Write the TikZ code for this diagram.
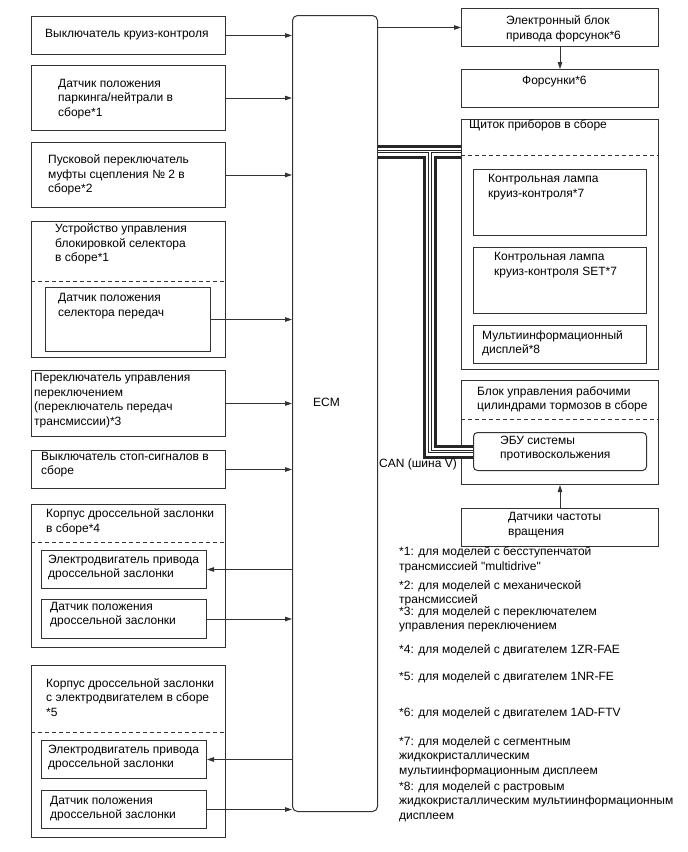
\documentclass[tikz,border=0pt]{standalone}
\usepackage{fontspec}
\setmainfont{Liberation Sans}[Ligatures=TeXOff]
\usetikzlibrary{positioning,arrows.meta}

\begin{document}
\begin{tikzpicture}[x=1pt, y=-1pt, font=\fontsize{12}{14.5}\selectfont,
  box/.style={draw=black!80, line width=1pt, anchor=north west, inner sep=0pt, minimum width=194pt},
  txt/.style={align=left, inner sep=0pt, anchor=base west},
  sep/.style={draw=black!80, line width=0.9pt, dash pattern=on 4pt off 3pt},
  arr/.style={draw=black!80, line width=0.9pt, -{Triangle[length=7pt,width=4.5pt]}}]
\useasboundingbox (0,0) rectangle (688,852);

% ECM
\node[box, minimum width=85pt, minimum height=796pt, rounded corners=5pt] (ecm) at (292,15) {};
\node[txt] (ecmt) at (313,406) {ECM};

% left column (text nodes sit on the baseline of their last line)
\node[box, minimum height=38pt] (cruise) at (31,16) {};
\node[txt] (cruiset) at ([shift={(14,21.5)}]cruise.north west) {Выключатель круиз-контроля};
\node[box, minimum height=65pt, below=10pt of cruise] (pnsw) {};
\node[txt] (pnswt) at ([shift={(27,51)}]pnsw.north west) {Датчик положения\\паркинга/нейтрали в\\сборе*1};
\node[box, minimum height=65pt, below=11pt of pnsw] (clutch) {};
\node[txt] (clutcht) at ([shift={(17,50.5)}]clutch.north west) {Пусковой переключатель\\муфты сцепления № 2 в\\сборе*2};
\node[box, minimum height=136pt, below=13pt of clutch] (lock) {};
\node[txt] (lockt) at ([shift={(24,40.5)}]lock.north west) {Устройство управления\\блокировкой селектора\\в сборе*1};
\draw[sep] ([yshift=-60pt]lock.north west) -- ([yshift=-60pt]lock.north east);
\node[box, minimum width=165pt, minimum height=64pt, below right=66pt and 14pt of lock.north west] (selsens) {};
\node[txt] (selsenst) at ([shift={(13,29)}]selsens.north west) {Датчик положения\\селектора передач};
\node[box, minimum height=66pt, below=12pt of lock] (shiftsw) {};
\node[txt] (shiftswt) at ([shift={(3,55)}]shiftsw.north west) {Переключатель управления\\переключением\\(переключатель передач\\трансмиссии)*3};
\node[box, minimum height=38pt, below=13pt of shiftsw] (stopsw) {};
\node[txt] (stopswt) at ([shift={(10,24.5)}]stopsw.north west) {Выключатель стоп-сигналов в\\сборе};

% throttle bodies
\node[box, minimum height=143pt, below=15pt of stopsw] (tb4) {};
\node[txt] (tb4t) at ([shift={(15,28)}]tb4.north west) {Корпус дроссельной заслонки\\в сборе*4};
\draw[sep] ([yshift=-38pt]tb4.north west) -- ([yshift=-38pt]tb4.north east);
\node[box, minimum width=165pt, minimum height=38pt, below right=46pt and 10pt of tb4.north west] (tbmot4) {};
\node[txt] (tbmot4t) at ([shift={(7,27.5)}]tbmot4.north west) {Электродвигатель привода\\дроссельной заслонки};
\node[box, minimum width=165pt, minimum height=39pt, below=10pt of tbmot4] (tbsens4) {};
\node[txt] (tbsens4t) at ([shift={(9,25.5)}]tbsens4.north west) {Датчик положения\\дроссельной заслонки};

\node[box, minimum height=172pt, below=17pt of tb4] (tb5) {};
\node[txt] (tb5t) at ([shift={(15,51)}]tb5.north west) {Корпус дроссельной заслонки\\с электродвигателем в сборе\\*5};
\draw[sep] ([yshift=-67pt]tb5.north west) -- ([yshift=-67pt]tb5.north east);
\node[box, minimum width=165pt, minimum height=38pt, below right=75pt and 10pt of tb5.north west] (tbmot5) {};
\node[txt] (tbmot5t) at ([shift={(7,27.5)}]tbmot5.north west) {Электродвигатель привода\\дроссельной заслонки};
\node[box, minimum width=165pt, minimum height=38pt, below=11pt of tbmot5] (tbsens5) {};
\node[txt] (tbsens5t) at ([shift={(9,28.5)}]tbsens5.north west) {Датчик положения\\дроссельной заслонки};

% right column
\node[box, minimum width=197pt, minimum height=38pt] (edu) at (461,8) {};
\node[txt] (edut) at ([shift={(45,31)}]edu.north west) {Электронный блок\\привода форсунок*6};
\node[box, minimum width=197pt, minimum height=38pt, below=22pt of edu] (inj) {};
\node[txt] (injt) at ([shift={(61,15)}]inj.north west) {Форсунки*6};
\node[box, minimum width=197pt, minimum height=250pt, below=11pt of inj] (meter) {};
\node[txt] (metert) at ([shift={(8,9.5)}]meter.north west) {Щиток приборов в сборе};
\draw[sep] ([yshift=-36pt]meter.north west) -- ([yshift=-36pt]meter.north east);
\node[box, minimum width=173pt, minimum height=66pt, below right=50pt and 12pt of meter.north west] (lampa) {};
\node[txt] (lampat) at ([shift={(15,28)}]lampa.north west) {Контрольная лампа\\круиз-контроля*7};
\node[box, minimum width=173pt, minimum height=66pt, below=11pt of lampa] (lampb) {};
\node[txt] (lampbt) at ([shift={(21,28)}]lampb.north west) {Контрольная лампа\\круиз-контроля SET*7};
\node[box, minimum width=173pt, minimum height=38pt, below=11pt of lampb] (mid) {};
\node[txt] (midt) at ([shift={(9,28.5)}]mid.north west) {Мультиинформационный\\дисплей*8};

\node[box, minimum width=197pt, minimum height=104pt, below=10pt of meter] (brake) {};
\node[txt] (braket) at ([shift={(16,29.5)}]brake.north west) {Блок управления рабочими\\цилиндрами тормозов в сборе};
\draw[sep] ([yshift=-39pt]brake.north west) -- ([yshift=-39pt]brake.north east);
\node[box, minimum width=173pt, minimum height=38pt, rounded corners=4pt, below right=52pt and 12pt of brake.north west] (ecu) {};
\node[txt] (ecut) at ([shift={(27,26.5)}]ecu.north west) {ЭБУ системы\\противоскольжения};
\node[box, minimum width=197pt, minimum height=38pt, below=23pt of brake] (speed) {};
\node[txt] (speedt) at ([shift={(47,27)}]speed.north west) {Датчики частоты\\вращения};

% signals
\draw[arr] (cruise.east) -- (cruise.east -| ecm.west);
\draw[arr] (pnsw.east) -- (pnsw.east -| ecm.west);
\draw[arr] (clutch.east) -- (clutch.east -| ecm.west);
\draw[arr] (selsens.east) -- (selsens.east -| ecm.west);
\draw[arr] (shiftsw.east) -- (shiftsw.east -| ecm.west);
\draw[arr] (stopsw.east) -- (stopsw.east -| ecm.west);
\draw[arr] (tbmot4.east -| ecm.west) -- (tbmot4.east);
\draw[arr] (tbsens4.east) -- (tbsens4.east -| ecm.west);
\draw[arr] (tbmot5.east -| ecm.west) -- (tbmot5.east);
\draw[arr] (tbsens5.east) -- (tbsens5.east -| ecm.west);
\draw[arr] (edu.west -| ecm.east) -- (edu.west);
\draw[arr] (edu.south) -- (inj.north);
\draw[arr] (speed.north) -- (brake.south);

% CAN bus
\coordinate (canj) at (430,151.5);
\foreach \w/\c in {14/black!85, 8/white, 3.5/black!85, 1.5/white}
  \draw[line width=\w pt, draw=\c, line join=miter] (canj -| ecm.east) -- (canj -| meter.west)
    (canj) -- (canj |- ecu.west) -- (ecu.west);
\node[txt] (can) at (379,467) {CAN (шина V)};

% footnotes
\node[txt] (fn1) at (399,570) {*1: для моделей с бесступенчатой\\трансмиссией "multidrive"};
\node[txt] (fn2) at (399,603.5) {*2: для моделей с механической\\трансмиссией};
\node[txt] (fn3) at (399,629.5) {*3: для моделей с переключателем\\управления переключением};
\node[txt] (fn4) at (399,653.5) {*4: для моделей с двигателем 1ZR-FAE};
\node[txt] (fn5) at (399,680) {*5: для моделей с двигателем 1NR-FE};
\node[txt] (fn6) at (399,716.5) {*6: для моделей с двигателем 1AD-FTV};
\node[txt] (fn7) at (399,774) {*7: для моделей с сегментным\\жидкокристаллическим\\мультиинформационным дисплеем};
\node[txt] (fn8) at (399,819) {*8: для моделей с растровым\\жидкокристаллическим мультиинформационным\\дисплеем};
\end{tikzpicture}
\end{document}
